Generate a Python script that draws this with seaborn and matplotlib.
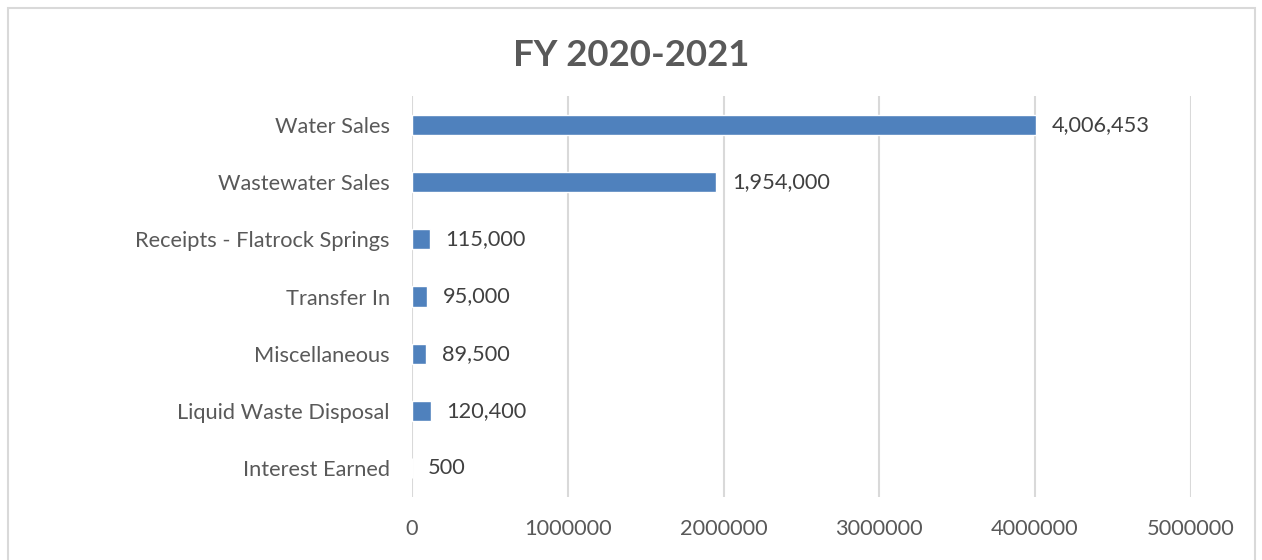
import matplotlib
matplotlib.use("Agg")
import matplotlib.pyplot as plt
from matplotlib.patches import Rectangle
import seaborn as sns
import pandas as pd

categories = ["Water Sales", "Wastewater Sales", "Receipts - Flatrock Springs",
              "Transfer In", "Miscellaneous", "Liquid Waste Disposal", "Interest Earned"]
amounts = [4006453, 1954000, 115000, 95000, 89500, 120400, 500]
x_ticks = [0, 1000000, 2000000, 3000000, 4000000, 5000000]
title = "FY 2020-2021"

sns.set_theme(style="white")
plt.rcParams["font.family"] = ["Lato", "DejaVu Sans"]

text_color = "#595959"
bar_color = "#4F81BD"
grid_color = "#D9D9D9"

df = pd.DataFrame({"category": categories, "amount": amounts})

fig = plt.figure(figsize=(12.62, 5.6), dpi=100)
ax = fig.add_axes([0.3265, 0.1125, 0.617, 0.716])

sns.barplot(data=df, x="amount", y="category", orient="h", color=bar_color,
            saturation=1, width=0.35, ax=ax)

ax.set_xlim(0, 5000000)
ax.set_xticks(x_ticks)
ax.set_xticklabels([str(t) for t in x_ticks])
ax.set_xlabel("")
ax.set_ylabel("")
ax.xaxis.grid(True, color=grid_color, linewidth=1.5)
ax.set_axisbelow(True)
for s in ax.spines.values():
    s.set_visible(False)
ax.tick_params(axis="both", length=0, labelsize=15.7, labelcolor=text_color)
ax.tick_params(axis="x", pad=16)
ax.tick_params(axis="y", pad=16)

for i, v in enumerate(amounts):
    ax.text(v + 100000, i, f"{v:,}", va="center", ha="left",
            fontsize=15.7, color="#404040")

fig.text(0.5, 0.9, title, ha="center", va="center", fontsize=26.4,
         fontweight="bold", color=text_color)

fig.patches.append(Rectangle((8 / 1262, -0.05), 1247 / 1262, 1.0 - 8 / 560 + 0.05,
                             transform=fig.transFigure, fill=False,
                             edgecolor=grid_color, linewidth=1.5))

fig.savefig("out.png", dpi=100)
